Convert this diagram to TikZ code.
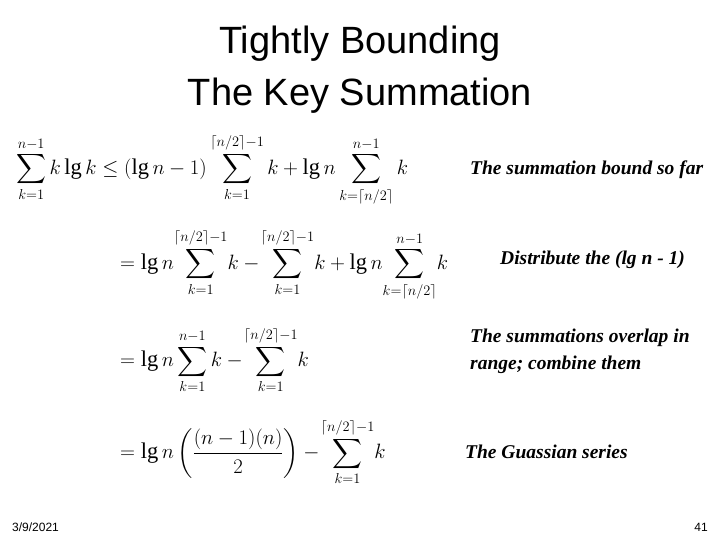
\documentclass[tikz,border=0pt]{standalone}
\usepackage{amsmath}
\usepackage{fontspec}
\setmainfont{Liberation Serif}
\newfontfamily\arial{Liberation Sans}
\begin{document}
\begin{tikzpicture}[x=1pt,y=-1pt,
  title/.style={font=\arial\fontsize{38}{52}\selectfont,align=center},
  eq/.style={anchor=west,font=\fontsize{22.5}{27}\selectfont,inner sep=0pt},
  note/.style={anchor=west,font=\bfseries\itshape\fontsize{19.5}{27}\selectfont,align=left,inner sep=0pt},
  foot/.style={font=\arial\fontsize{12}{14}\selectfont,inner sep=0pt}]
\useasboundingbox[fill=white] (0,0) rectangle (720,540);
\node[title] (t) at (360,70) {Tightly Bounding\\The Key Summation};
\node[eq] (e1) at (16,170) {$\displaystyle\sum_{k=1}^{n-1} k\lg k \le (\lg n-1)\sum_{k=1}^{\lceil n/2\rceil-1} k+\lg n\sum_{k=\lceil n/2\rceil}^{n-1} k$};
\node[eq] (e2) at (120,265) {$\displaystyle=\lg n\!\sum_{k=1}^{\lceil n/2\rceil-1}\! k-\!\sum_{k=1}^{\lceil n/2\rceil-1}\! k+\lg n\!\sum_{k=\lceil n/2\rceil}^{n-1}\! k$};
\node[eq] (e3) at (120,360) {$\displaystyle=\lg n\sum_{k=1}^{n-1} k-\!\sum_{k=1}^{\lceil n/2\rceil-1}\! k$};
\node[eq] (e4) at (120,452) {$\displaystyle=\lg n\left(\frac{(n-1)(n)}{2}\right)-\!\sum_{k=1}^{\lceil n/2\rceil-1}\! k$};
\node[note] (n1) at (470,170) {The summation bound so far};
\node[note] (n2) at (500,260) {Distribute the (lg n - 1)};
\node[note] (n3) at (470,351) {The summations overlap in\\range; combine them};
\node[note] (n4) at (465,452) {The Guassian series};
\node[foot,anchor=west] (d) at (12,527) {3/9/2021};
\node[foot,anchor=east] (p) at (708,527) {41};
\end{tikzpicture}
\end{document}
